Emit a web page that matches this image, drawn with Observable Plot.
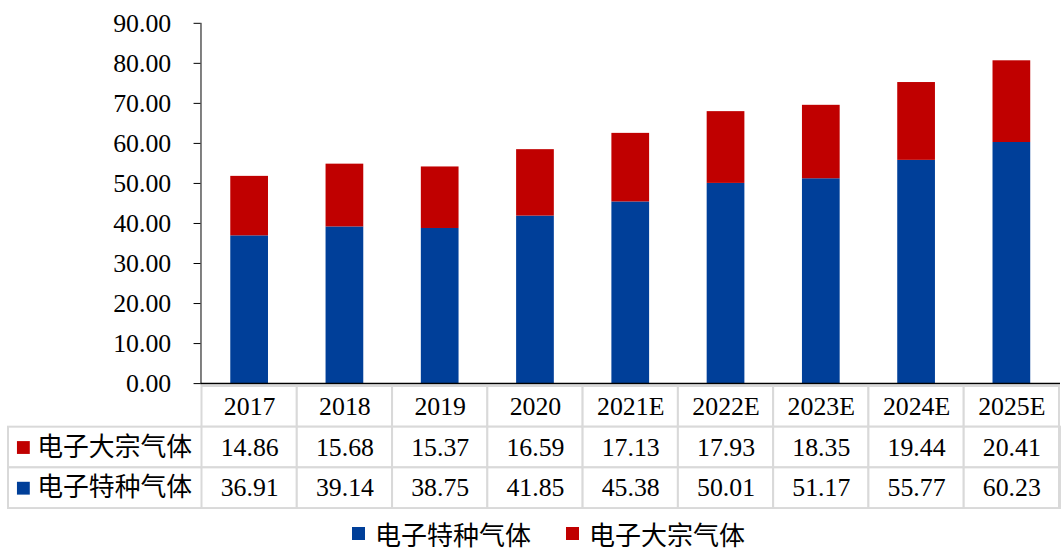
<!DOCTYPE html>
<html><head><meta charset="utf-8">
<script src="https://cdn.jsdelivr.net/npm/d3@7"></script>
<script src="https://cdn.jsdelivr.net/npm/@observablehq/plot@0.6"></script>
<style>
html,body{margin:0;padding:0;background:#fff;}
body{width:1062px;height:550px;overflow:hidden;}
#chart{width:1062px;overflow:hidden;}
#chart svg{display:block;}
#chart svg.tbl{margin-top:-13px;position:relative;}
.legend{display:flex;align-items:center;height:48px;padding-left:352px;font-family:"Liberation Serif","Noto Sans CJK SC",serif;font-size:26px;color:#000;}
.legend .item{display:flex;align-items:center;margin-right:35px;}
.legend .sw{width:13px;height:13px;margin-right:10px;}
</style></head><body><div id="chart"></div>
<script>
const categories = ["2017","2018","2019","2020","2021E","2022E","2023E","2024E","2025E"];
const bulkGas = [14.86,15.68,15.37,16.59,17.13,17.93,18.35,19.44,20.41];
const specialtyGas = [36.91,39.14,38.75,41.85,45.38,50.01,51.17,55.77,60.23];
const bulkName = "电子大宗气体";
const specialtyName = "电子特种气体";
const seriesNames = [specialtyName, bulkName];
const seriesColors = ["#003f99", "#c00000"];
const tableRows = [bulkName, specialtyName];
const yTicks = [0,10,20,30,40,50,60,70,80,90];

const FONT = '"Liberation Serif","Times New Roman","Noto Sans CJK SC",serif';
const fmt = d3.format(".2f");

const stacked = categories.flatMap((c, i) => [
  {category: c, series: specialtyName, value: specialtyGas[i]},
  {category: c, series: bulkName, value: bulkGas[i]}
]);

const bars = Plot.plot({
  width: 1070, height: 400,
  marginTop: 23, marginBottom: 14, marginLeft: 202, marginRight: 2,
  style: {fontFamily: FONT, fontSize: "26px", color: "#000", background: "#fff"},
  x: {domain: categories, paddingInner: 0.6, paddingOuter: 0.3, axis: null},
  y: {domain: [0, 90], ticks: yTicks, tickFormat: fmt, tickSize: 7, tickPadding: 23, label: null, line: true},
  color: {domain: seriesNames, range: seriesColors},
  marks: [
    Plot.barY(stacked, {x: "category", y: "value", fill: "series"}),
    Plot.ruleY([0], {stroke: "#000", strokeWidth: 1.5})
  ]
});

const tableCells = categories.flatMap((c, i) => [
  {category: c, row: "header", text: c},
  {category: c, row: bulkName, text: fmt(bulkGas[i])},
  {category: c, row: specialtyName, text: fmt(specialtyGas[i])}
]);

const table = Plot.plot({
  width: 1070, height: 126,
  marginTop: 1, marginBottom: 1, marginLeft: 8, marginRight: 2,
  style: {fontFamily: FONT, fontSize: "26px", color: "#000", background: "transparent"},
  x: {domain: categories, range: [202, 1068], padding: 0, axis: null},
  y: {domain: ["header", ...tableRows], padding: 0, axis: null},
  color: {domain: seriesNames, range: seriesColors},
  marks: [
    Plot.cell(tableRows, {y: d => d, fill: "white", stroke: "#d9d9d9", strokeWidth: 2}),
    Plot.cell(tableCells, {x: "category", y: "row", fill: "white", stroke: "#d9d9d9", strokeWidth: 2}),
    Plot.text(tableCells, {x: "category", y: "row", text: "text", fill: "#000"}),
    Plot.text(tableRows, {y: d => d, text: d => d, frameAnchor: "left", dx: 29, textAnchor: "start", fill: "#000"}),
    Plot.dot(tableRows, {y: d => d, frameAnchor: "left", dx: 15, symbol: "square", r: 7.3, fill: d => d, stroke: null})
  ]
});
table.classList.add("tbl");

const root = document.getElementById("chart");
root.appendChild(bars);
root.appendChild(table);

const legend = document.createElement("div");
legend.className = "legend";
seriesNames.forEach((name, i) => {
  const item = document.createElement("div");
  item.className = "item";
  const sw = document.createElement("span");
  sw.className = "sw";
  sw.style.background = seriesColors[i];
  const label = document.createElement("span");
  label.textContent = name;
  item.appendChild(sw);
  item.appendChild(label);
  legend.appendChild(item);
});
root.appendChild(legend);
</script>
</body></html>
